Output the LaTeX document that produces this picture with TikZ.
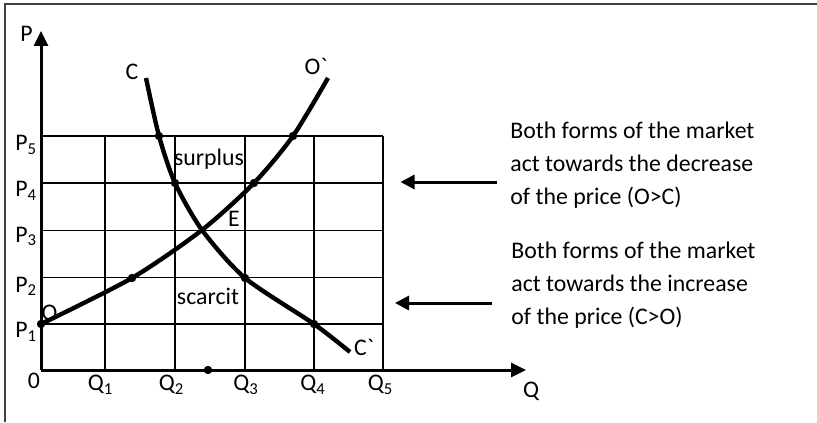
\documentclass[tikz,border=0pt]{standalone}
\usepackage{fontspec}
\setmainfont{Carlito}
\usetikzlibrary{arrows.meta, positioning, calc}

\newcommand{\tick}{\textasciigrave}

\begin{document}
\begin{tikzpicture}[x=0.5pt, y=-0.5pt,
    font=\fontsize{11.9}{16.5}\selectfont,
    lbl/.style={inner sep=0pt, anchor=base},
    gridline/.style={line width=0.9pt},
    axisline/.style={line width=1.5pt, -{Triangle[length=7.5pt,width=7pt]}},
    curve/.style={line width=2.2pt, line join=round, line cap=butt},
    pointer/.style={line width=1.5pt, -{Triangle[length=7pt,width=7pt]}},
    dot/.style={circle, fill, inner sep=0pt, minimum size=4.2pt},
    note/.style={inner sep=0pt, anchor=west, align=left}]

    \useasboundingbox (0,0) rectangle (817,422);

    % frame, only left and top edges show
    \draw[line width=1pt, black!75] (5,422) -- (5,4) -- (817,4);

    % grid
    \foreach \y in {136,183,230.5,277.5,324}
        \draw[gridline] (41,\y) -- (383,\y);
    \foreach \x in {105,175,245,314,383}
        \draw[gridline] (\x,136) -- (\x,370);

    % axes
    \coordinate (orig) at (41,370);
    \coordinate (ptop) at (41,31);
    \coordinate (qend) at (526,370);
    \draw[axisline] (orig) -- (ptop);
    \draw[axisline] (orig) -- (qend);

    % curves C-C` and O-O`
    \draw[curve] plot[smooth, tension=0.45] coordinates
        {(146,78) (159,136) (175,183) (202,230) (245,278) (314,324) (350,352)};
    \draw[curve] plot[smooth, tension=0.45] coordinates
        {(41,324) (132,278) (202,230) (254,183) (293,136) (328,78)};

    % points
    \node[dot] (c5) at (159,136) {};
    \node[dot] (c4) at (175,183) {};
    \node[dot] (c2) at (245,278) {};
    \node[dot] (c1) at (314,324) {};
    \node[dot] (o1) at (41,324) {};
    \node[dot] (o2) at (132,278) {};
    \node[dot] (o4) at (254,183) {};
    \node[dot] (o5) at (293,136) {};
    \node[dot] (qe) at (208,370) {};

    % axis labels
    \node[lbl] (plab) at (26.5,42) {P};
    \node[lbl] (qlab) at (531,397) {Q};
    \node[lbl] (zero) at (34,388) {0};
    \foreach \y/\i in {151/5, 197/4, 242/3, 292/2, 337.5/1}
        \node[lbl, anchor=base west] (p\i) at (15,\y) {P\textsubscript{\i}};
    \foreach \x/\i in {100.5/1, 171.5/2, 246/3, 313/4, 380.5/5}
        \node[lbl] (q\i) at (\x,390.5) {Q\textsubscript{\i}};

    % curve labels
    \node[lbl] (clab) at (132,80) {C};
    \node[lbl] (clab2) at (364,355) {C\tick};
    \node[lbl] (olab) at (49.5,320) {O};
    \node[lbl] (olab2) at (316,75) {O\tick};
    \node[lbl] (elab) at (234,226.5) {E};
    \node[lbl] (surplus) at (209,165.5) {surplus};
    \node[lbl] (scarcit) at (208,304) {scarcit};

    % notes on the right
    \node[note] (dectext) at (510,165) {Both forms of the market\\act towards the decrease\\of the price (O>C)};
    \node[note] (inctext) at (511,285) {Both forms of the market\\act towards the increase\\of the price (C>O)};

    \coordinate (dectail) at (497,182);
    \coordinate (dectip) at (400.5,182);
    \coordinate (inctail) at (492,303);
    \coordinate (inctip) at (395,303);
    \draw[pointer] (dectail) -- (dectip);
    \draw[pointer] (inctail) -- (inctip);
\end{tikzpicture}
\end{document}
